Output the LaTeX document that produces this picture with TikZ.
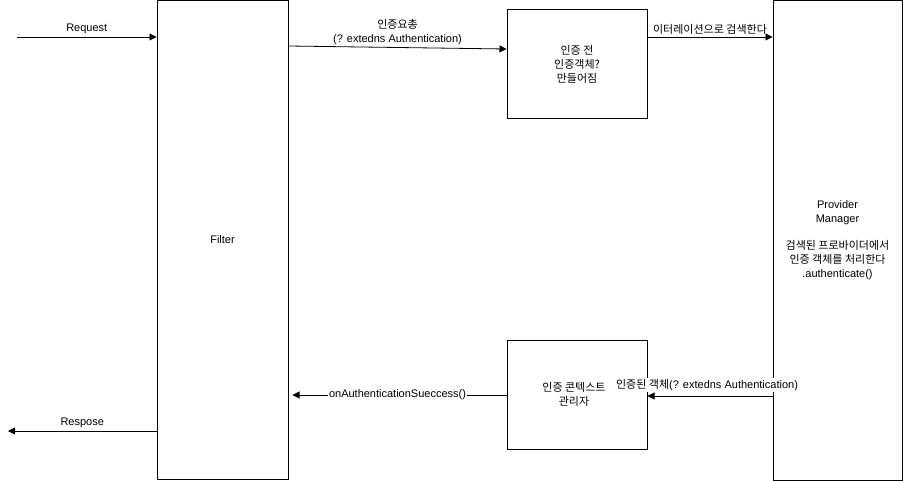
\documentclass[tikz,border=0pt]{standalone}
\usepackage{fontspec}
\setmainfont{Liberation Sans}
\newfontfamily\kr{Noto Sans CJK KR}
\usetikzlibrary{arrows.meta}
\tikzset{%
  block/.style = {shape=rectangle, draw, line width=1pt,%
                  align=center, inner sep=0pt},%
  flow/.style  = {line width=0.8pt, -{Triangle[length=7pt,width=7pt]}},%
  lbl/.style   = {fill=white, inner sep=1pt, align=center}%
}

\begin{document}
\begin{tikzpicture}[x=1pt,y=-1pt,every node/.style = {font=\fontsize{11}{14}\selectfont}]
		\useasboundingbox (0,0) rectangle (903,481);
		\node[block, minimum width=131pt, minimum height=478pt] (filter) at (222.5,240) {Filter};
		\node[block, minimum width=140pt, minimum height=109pt] (pre) at (577,64.5) {{\kr 인증 전}\\{\kr 인증객체?}\\{\kr 만들어짐}};
		\node[block, minimum width=140pt, minimum height=109pt] (ctx) at (577,394.5) {};
		\node[align=center] (ctxtext) at (574,394) {{\kr 인증 콘텍스트}\\{\kr 관리자}};
		\node[block, minimum width=129pt, minimum height=479pt] (provider) at (837.5,240.5) {Provider\\Manager\\[13pt]{\kr 검색된 프로바이더에서}\\{\kr 인증 객체를 처리한다}\\.authenticate()};
		\coordinate (reqin) at (17,37);
		\coordinate (respout) at (8,431);
		\draw[flow] (reqin) -- node[above, inner sep=3pt] {Request} (filter.west |- reqin);
		\draw[flow] (filter.east |- 0,46) -- node[above, align=center, inner sep=2pt] {{\kr 인증요총}\\(? extedns Authentication)} (pre.west |- 0,49);
		\draw[flow] (pre.east |- 0,37) -- node[above, inner sep=2pt] {\kr 이터레이션으로 검색한다} (provider.west |- 0,37);
		\draw[flow] (provider.west |- 0,396) -- (ctx.east |- 0,396);
		\node[lbl] (objlabel) at (707,385) {{\kr 인증된 객체}(? extedns Authentication)};
		\draw[flow, shorten >=4pt] (ctx.west |- 0,395) -- node[lbl] {onAuthenticationSueccess()} (filter.east |- 0,395);
		\draw[flow] (filter.west |- respout) -- node[above, inner sep=3pt] {Respose} (respout);
	\end{tikzpicture}
\end{document}
